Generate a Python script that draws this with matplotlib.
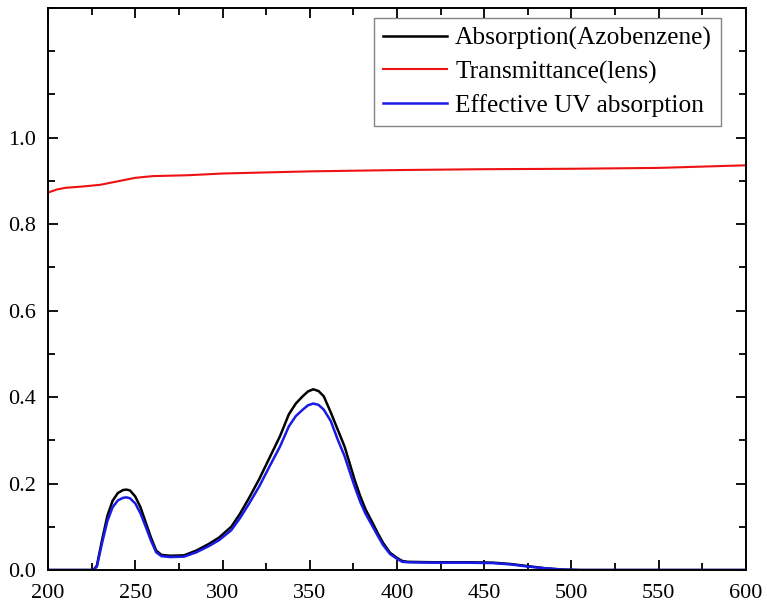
import numpy as np
import matplotlib
matplotlib.use('Agg')
import matplotlib.pyplot as plt
from matplotlib.ticker import MultipleLocator

# wavelength grid (nm) for the absorption curves
wl = [200, 226, 228, 231, 234, 237, 240, 243, 245, 247, 250, 253, 256, 259,
      262, 265, 270, 278, 285, 292, 298, 305, 310, 315, 321, 327, 333, 338,
      342, 346, 349, 352, 355, 358, 362, 366, 370, 373, 376, 379, 382, 386,
      389, 392, 396, 400, 403, 406, 420, 440, 455, 465, 475, 485, 495, 505, 600]

absorption = [0, 0, 0.01, 0.07, 0.125, 0.16, 0.178, 0.185, 0.186, 0.184, 0.17,
              0.145, 0.11, 0.075, 0.045, 0.035, 0.033, 0.034, 0.045, 0.06,
              0.075, 0.1, 0.13, 0.165, 0.21, 0.26, 0.31, 0.36, 0.385, 0.402,
              0.413, 0.418, 0.414, 0.402, 0.365, 0.325, 0.285, 0.245, 0.205,
              0.17, 0.14, 0.109, 0.085, 0.063, 0.04, 0.028, 0.021, 0.019,
              0.018, 0.018, 0.017, 0.014, 0.009, 0.004, 0.001, 0, 0]

effective = [0, 0, 0.008, 0.063, 0.113, 0.145, 0.161, 0.167, 0.168, 0.166,
             0.154, 0.131, 0.1, 0.068, 0.041, 0.032, 0.030, 0.031, 0.041,
             0.055, 0.069, 0.092, 0.12, 0.152, 0.193, 0.24, 0.286, 0.332,
             0.356, 0.371, 0.381, 0.385, 0.382, 0.371, 0.345, 0.302, 0.263,
             0.226, 0.19, 0.157, 0.13, 0.101, 0.079, 0.058, 0.037, 0.026,
             0.019, 0.018, 0.017, 0.017, 0.016, 0.013, 0.008, 0.004, 0.001,
             0, 0]

wl_lens = [200, 205, 210, 220, 230, 240, 250, 260, 280, 300, 350, 400, 450,
           500, 550, 600]
transmittance = [0.873, 0.880, 0.884, 0.887, 0.891, 0.899, 0.907, 0.911,
                 0.913, 0.917, 0.922, 0.925, 0.927, 0.928, 0.930, 0.936]

plt.rcParams['font.family'] = ['Liberation Serif', 'DejaVu Serif']

fig = plt.figure(figsize=(7.67, 6.09), dpi=100)
ax = fig.add_axes([0.0626, 0.064, 0.9100, 0.923])

ax.plot(wl, absorption, color='black', lw=1.8, label='Absorption(Azobenzene)')
ax.plot(wl_lens, transmittance, color='#ee1111', lw=1.5, label='Transmittance(lens)')
ax.plot(wl, effective, color='#1a1ae6', lw=1.8, label='Effective UV absorption')

ax.set_xlim(200, 600)
ax.set_ylim(0, 1.3)
ax.xaxis.set_major_locator(MultipleLocator(50))
ax.xaxis.set_minor_locator(MultipleLocator(25))
ax.set_yticks([0, 0.2, 0.4, 0.6, 0.8, 1.0])
ax.yaxis.set_minor_locator(MultipleLocator(0.1))
ax.tick_params(which='both', direction='in', top=True, right=True,
               labelsize=16, width=1.3)
ax.tick_params(which='major', length=7)
ax.tick_params(which='minor', length=5)
ax.tick_params(axis='x', pad=10)
ax.tick_params(axis='y', pad=9)
for s in ax.spines.values():
    s.set_linewidth(1.4)

leg = ax.legend(loc='upper right', fontsize=18.3, frameon=True, fancybox=False,
                handlelength=2.55, handletextpad=0.3, borderpad=0.35,
                labelspacing=0.4, borderaxespad=0,
                bbox_to_anchor=(0.964, 0.982))
leg.get_frame().set_edgecolor('#666666')
leg.get_frame().set_linewidth(1.0)

fig.savefig('out.png', dpi=100)
